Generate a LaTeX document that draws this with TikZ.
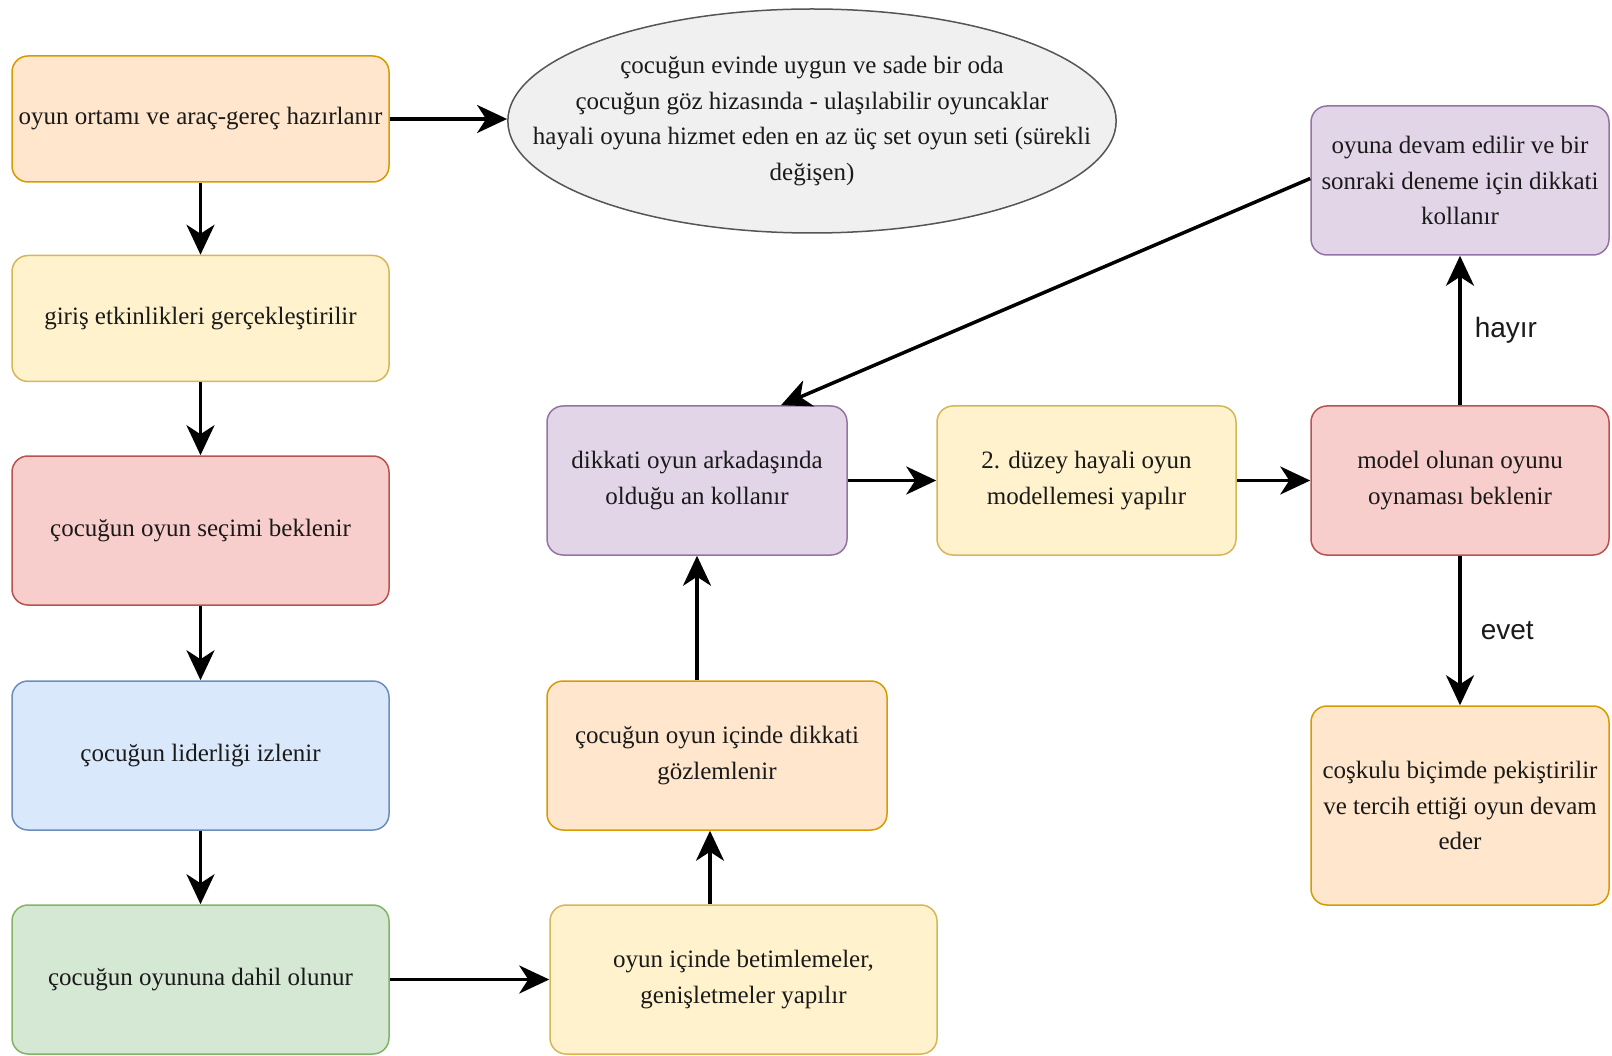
\documentclass[tikz,border=0pt]{standalone}
\usepackage{fontspec}
\setmainfont{Liberation Serif}
\newfontfamily\labelfont{Liberation Sans}
\usepackage{tikz}
\usetikzlibrary{arrows.meta,positioning,shapes.geometric,calc}
\usepackage{xcolor}
\definecolor{orangefill}{HTML}{FFE6CC}
\definecolor{orangeline}{HTML}{D79B00}
\definecolor{yellowfill}{HTML}{FFF2CC}
\definecolor{yellowline}{HTML}{D6B656}
\definecolor{redfill}{HTML}{F8CECC}
\definecolor{redline}{HTML}{B85450}
\definecolor{bluefill}{HTML}{DAE8FC}
\definecolor{blueline}{HTML}{6C8EBF}
\definecolor{greenfill}{HTML}{D5E8D4}
\definecolor{greenline}{HTML}{82B366}
\definecolor{purplefill}{HTML}{E1D5E7}
\definecolor{purpleline}{HTML}{9673A6}
\definecolor{grayfill}{HTML}{F0F0F0}
\definecolor{grayline}{HTML}{555555}
\definecolor{inktext}{HTML}{1A1A1A}

\begin{document}
\begin{tikzpicture}[
  x=1pt, y=-1pt,
  >={Stealth[length=30pt,width=28pt,inset=9pt]},
  flowbox/.style={
    rounded corners=16pt,
    line width=1.5pt,
    align=center,
    inner sep=2pt,
    text=inktext,
    font=\fontsize{25pt}{35.5pt}\selectfont
  },
  orangebox/.style={flowbox, draw=orangeline, fill=orangefill},
  yellowbox/.style={flowbox, draw=yellowline, fill=yellowfill},
  redbox/.style={flowbox, draw=redline, fill=redfill},
  bluebox/.style={flowbox, draw=blueline, fill=bluefill},
  greenbox/.style={flowbox, draw=greenline, fill=greenfill},
  purplebox/.style={flowbox, draw=purpleline, fill=purplefill},
  notebubble/.style={
    ellipse,
    draw=grayline,
    fill=grayfill,
    line width=1.5pt,
    align=center,
    inner sep=-64pt,
    text=inktext,
    font=\fontsize{25pt}{35.5pt}\selectfont,
    minimum width=602pt,
    minimum height=224pt
  },
  flowarrow/.style={->, line width=3.5pt, black},
  answer/.style={font=\labelfont\fontsize{28pt}{32pt}\selectfont, text=inktext, inner sep=0pt}
]

  \useasboundingbox (0,0) rectangle (1612,1056);

  % ---------------------------------------------------------------------------
  % LEFT COLUMN
  % ---------------------------------------------------------------------------
  \node[orangebox, minimum width=377pt, minimum height=126pt] (ortam) at (200.5, 119) {oyun ortamı ve araç-gereç hazırlanır};
  \node[yellowbox, minimum width=377pt, minimum height=126pt] (giris) at (200.5, 318.5) {giriş etkinlikleri gerçekleştirilir};
  \node[redbox, minimum width=377pt, minimum height=149pt] (secim) at (200.5, 530.5) {çocuğun oyun seçimi beklenir};
  \node[bluebox, minimum width=377pt, minimum height=149pt] (liderlik) at (200.5, 755.5) {çocuğun liderliği izlenir};
  \node[greenbox, minimum width=377pt, minimum height=149pt] (dahil) at (200.5, 979.5) {çocuğun oyununa dahil olunur};

  % ---------------------------------------------------------------------------
  % PLAY ROOM NOTE
  % ---------------------------------------------------------------------------
  \node[notebubble] (oda) at (812, 121) {
    çocuğun evinde uygun ve sade bir oda\\
    çocuğun göz hizasında - ulaşılabilir oyuncaklar\\
    hayali oyuna hizmet eden en az üç set oyun seti (sürekli\\
    değişen)
  };

  % ---------------------------------------------------------------------------
  % MIDDLE AND RIGHT
  % ---------------------------------------------------------------------------
  \node[yellowbox, minimum width=387pt, minimum height=149pt] (betim) at (743.5, 979.5) {oyun içinde betimlemeler,\\genişletmeler yapılır};
  \node[orangebox, minimum width=340pt, minimum height=149pt] (gozlem) at (717, 755.5) {çocuğun oyun içinde dikkati\\gözlemlenir};
  \node[purplebox, minimum width=300pt, minimum height=149pt] (arkadas) at (697, 480.5) {dikkati oyun arkadaşında\\olduğu an kollanır};
  \node[yellowbox, minimum width=299pt, minimum height=149pt] (duzey) at (1086.5, 480.5) {2. düzey hayali oyun\\modellemesi yapılır};
  \node[redbox, minimum width=298pt, minimum height=149pt] (model) at (1460, 480.5) {model olunan oyunu\\oynaması beklenir};
  \node[purplebox, minimum width=298pt, minimum height=149pt] (devam) at (1460, 180.5) {oyuna devam edilir ve bir\\sonraki deneme için dikkati\\kollanır};
  \node[orangebox, minimum width=298pt, minimum height=199pt] (coskulu) at (1460, 805.5) {coşkulu biçimde pekiştirilir\\ve tercih ettiği oyun devam\\eder};

  % ---------------------------------------------------------------------------
  % CONNECTORS
  % ---------------------------------------------------------------------------
  \draw[flowarrow] (ortam) -- (ortam -| oda.west);
  \draw[flowarrow] (ortam) -- (giris);
  \draw[flowarrow] (giris) -- (secim);
  \draw[flowarrow] (secim) -- (liderlik);
  \draw[flowarrow] (liderlik) -- (dahil);
  \draw[flowarrow] (dahil) -- (betim);
  \draw[flowarrow] ([xshift=-7pt]gozlem.south |- betim.north) -- ([xshift=-7pt]gozlem.south);
  \draw[flowarrow] (gozlem.north -| arkadas.south) -- (arkadas.south);
  \draw[flowarrow] (arkadas) -- (duzey);
  \draw[flowarrow] (duzey) -- (model);
  \draw[flowarrow] (model) -- (devam)
    node[answer, midway, anchor=west, xshift=13pt] (hayir) {hayır};
  \draw[flowarrow] (model) -- (coskulu)
    node[answer, midway, anchor=west, xshift=19pt] (evet) {evet};
  \draw[flowarrow] ([yshift=2pt]devam.west) -- ([xshift=84pt]arkadas.north);

\end{tikzpicture}
\end{document}
